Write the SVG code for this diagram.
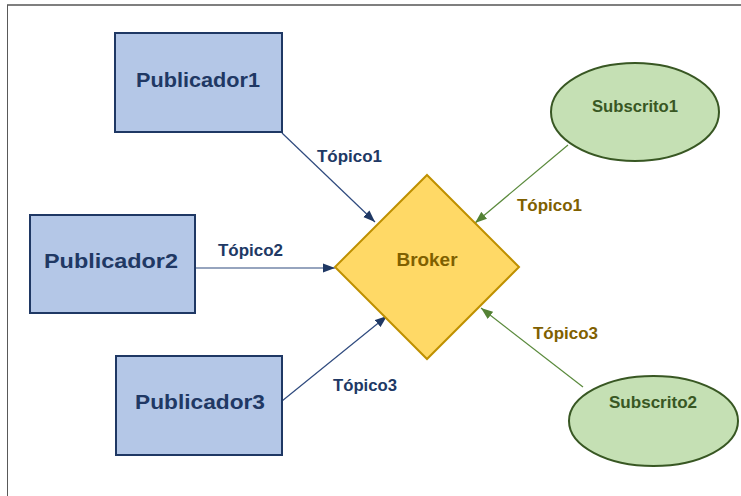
<svg xmlns="http://www.w3.org/2000/svg" width="741" height="496" viewBox="0 0 741 496">
  <style>
    .pub rect { fill: #B4C7E7; stroke: #1F3864; stroke-width: 2; }
    .pub text { font-family: "Liberation Sans", Arial, sans-serif; font-weight: bold; font-size: 21px; fill: #203864; text-anchor: middle; }
    .sub ellipse { fill: #C5E0B4; stroke: #385723; stroke-width: 2; }
    .sub text { font-family: "Liberation Sans", Arial, sans-serif; font-weight: bold; font-size: 17px; fill: #385723; text-anchor: middle; }
    .brk polygon { fill: #FFD966; stroke: #BF9000; stroke-width: 2; }
    .brk text { font-family: "Liberation Sans", Arial, sans-serif; font-weight: bold; font-size: 19px; fill: #7F6000; text-anchor: middle; }
    .lbl { font-family: "Liberation Sans", Arial, sans-serif; font-weight: bold; font-size: 16px; }
    .lbl.navy { fill: #203864; }
    .lbl.gold { fill: #7F6000; }
    .c-navy { stroke: #2F4A7E; stroke-width: 1.2; fill: none; marker-end: url(#ah-navy); }
    .c-green { stroke: #5A8A3C; stroke-width: 1.2; fill: none; marker-end: url(#ah-green); }
  </style>
  <defs>
    <marker id="ah-navy" markerUnits="userSpaceOnUse" markerWidth="13" markerHeight="10" refX="12" refY="5" orient="auto">
      <path d="M0,0.5 L12,5 L0,9.5 z" fill="#1F3864"/>
    </marker>
    <marker id="ah-green" markerUnits="userSpaceOnUse" markerWidth="13" markerHeight="10" refX="12" refY="5" orient="auto">
      <path d="M0,0.5 L12,5 L0,9.5 z" fill="#548235"/>
    </marker>
  </defs>

  <rect x="0" y="0" width="741" height="496" fill="#FFFFFF"/>
  <g id="frame">
    <line x1="7" y1="5" x2="741" y2="5" stroke="#7F7F7F" stroke-width="2"/>
    <line x1="7.5" y1="5" x2="7.5" y2="496" stroke="#595959" stroke-width="1"/>
  </g>

  <g id="connectors">
    <line class="c-navy" x1="282" y1="133" x2="375" y2="222"/>
    <line class="c-navy" x1="195" y1="268" x2="335" y2="268"/>
    <line class="c-navy" x1="282" y1="401" x2="387" y2="316"/>
    <line class="c-green" x1="568" y1="145" x2="475" y2="223"/>
    <line class="c-green" x1="583" y1="387" x2="481" y2="308"/>
    <text class="lbl navy" x="317" y="162" textLength="65" lengthAdjust="spacingAndGlyphs">Tópico1</text>
    <text class="lbl navy" x="218" y="256" textLength="65" lengthAdjust="spacingAndGlyphs">Tópico2</text>
    <text class="lbl navy" x="333" y="391" textLength="64" lengthAdjust="spacingAndGlyphs">Tópico3</text>
    <text class="lbl gold" x="517" y="211" textLength="65" lengthAdjust="spacingAndGlyphs">Tópico1</text>
    <text class="lbl gold" x="533" y="339" textLength="65" lengthAdjust="spacingAndGlyphs">Tópico3</text>
  </g>

  <g id="publicador1" class="pub">
    <rect x="115" y="33" width="167" height="99"/>
    <text x="198" y="87" textLength="124" lengthAdjust="spacingAndGlyphs">Publicador1</text>
  </g>
  <g id="publicador2" class="pub">
    <rect x="30" y="215" width="165" height="98"/>
    <text x="111" y="268" textLength="134" lengthAdjust="spacingAndGlyphs">Publicador2</text>
  </g>
  <g id="publicador3" class="pub">
    <rect x="116" y="356" width="166" height="99"/>
    <text x="200" y="409" textLength="130" lengthAdjust="spacingAndGlyphs">Publicador3</text>
  </g>

  <g id="broker" class="brk">
    <polygon points="427,175 519,267 427,359 335,267"/>
    <text x="427" y="266" textLength="61" lengthAdjust="spacingAndGlyphs">Broker</text>
  </g>

  <g id="subscrito1" class="sub">
    <ellipse cx="635" cy="112" rx="84" ry="49"/>
    <text x="635" y="112" textLength="86" lengthAdjust="spacingAndGlyphs">Subscrito1</text>
  </g>
  <g id="subscrito2" class="sub">
    <ellipse cx="653.5" cy="421" rx="84.5" ry="45"/>
    <text x="653" y="408" textLength="88" lengthAdjust="spacingAndGlyphs">Subscrito2</text>
  </g>
</svg>
